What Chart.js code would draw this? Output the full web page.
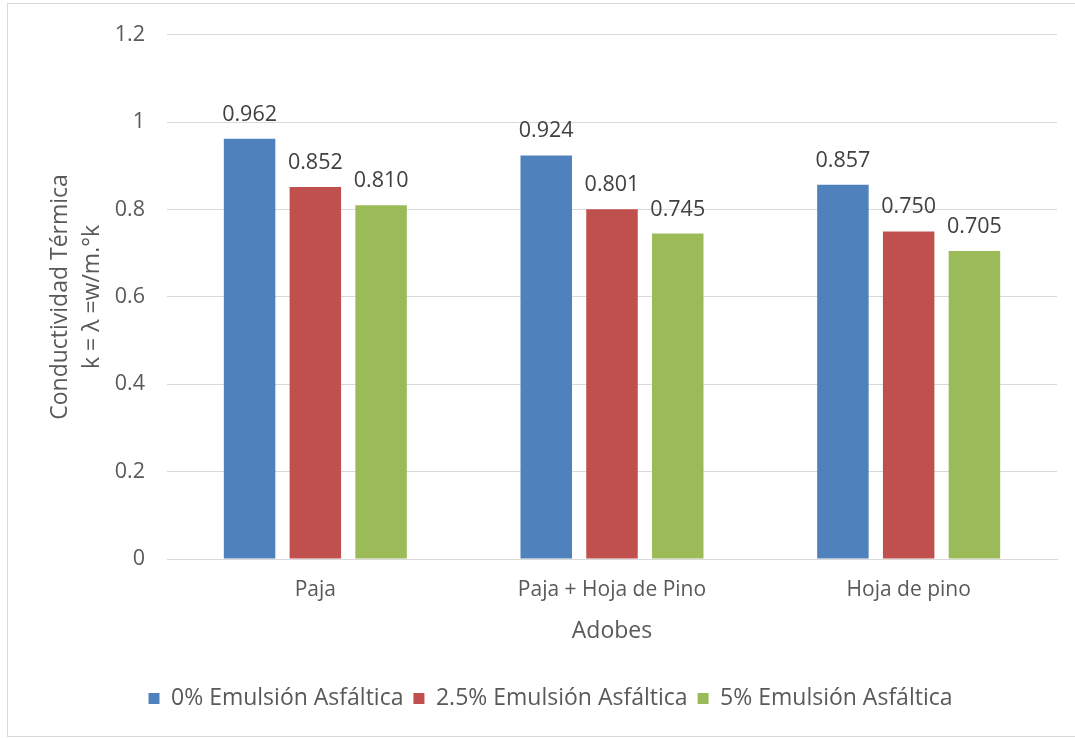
<!DOCTYPE html>
<html>
<head>
<meta charset="utf-8">
<script src="https://cdn.jsdelivr.net/npm/chart.js@4/dist/chart.umd.min.js"></script>
<style>
  html, body { margin: 0; padding: 0; background: #fff; }
  #wrap { position: relative; width: 1075px; height: 738px; }
  canvas { display: block; }
</style>
</head>
<body>
<div id="wrap"><canvas id="c" width="1075" height="738"></canvas></div>
<script>
const categories = ['Paja', 'Paja + Hoja de Pino', 'Hoja de pino'];
const seriesNames = ['0% Emulsión Asfáltica', '2.5% Emulsión Asfáltica', '5% Emulsión Asfáltica'];
const values0 = [0.962, 0.924, 0.857];
const values25 = [0.852, 0.801, 0.750];
const values5 = [0.810, 0.745, 0.705];
const yTicks = [0, 0.2, 0.4, 0.6, 0.8, 1, 1.2];
const colors = ['#4F81BD', '#C0504D', '#9BBB59'];

const FONT = '"Open Sans", "DejaVu Sans", sans-serif';

const frame = {
  id: 'frame',
  beforeDraw(chart) {
    const ctx = chart.ctx;
    ctx.save();
    ctx.fillStyle = '#fff';
    ctx.fillRect(0, 0, chart.width, chart.height);
    ctx.strokeStyle = '#d9d9d9';
    ctx.lineWidth = 1;
    ctx.strokeRect(7.5, 3.5, 1200, 733);
    ctx.restore();
  }
};

const valueLabels = {
  id: 'valueLabels',
  afterDatasetsDraw(chart) {
    const ctx = chart.ctx;
    ctx.save();
    ctx.font = '21.5px ' + FONT;
    ctx.fillStyle = '#404040';
    ctx.textAlign = 'center';
    ctx.textBaseline = 'alphabetic';
    chart.data.datasets.forEach((ds, i) => {
      const meta = chart.getDatasetMeta(i);
      meta.data.forEach((bar, j) => {
        ctx.fillText(ds.data[j].toFixed(3), bar.x, bar.y - 18);
      });
    });
    ctx.restore();
  }
};

new Chart(document.getElementById('c'), {
  type: 'bar',
  data: {
    labels: categories,
    datasets: [
      { label: seriesNames[0], data: values0, backgroundColor: colors[0] },
      { label: seriesNames[1], data: values25, backgroundColor: colors[1] },
      { label: seriesNames[2], data: values5, backgroundColor: colors[2] }
    ]
  },
  options: {
    responsive: false,
    animation: false,
    devicePixelRatio: 1,
    categoryPercentage: 0.665,
    barPercentage: 0.783,
    layout: { padding: { left: 44, right: 18, top: 33, bottom: 18 } },
    plugins: {
      legend: {
        position: 'bottom',
        labels: {
          font: { family: FONT, size: 23 },
          color: '#595959',
          boxWidth: 11,
          boxHeight: 11,
          padding: 10
        }
      },
      tooltip: { enabled: false }
    },
    scales: {
      x: {
        grid: { display: false, drawTicks: false },
        border: { display: true, color: '#d9d9d9', width: 1 },
        ticks: { font: { family: FONT, size: 21 }, color: '#595959', padding: 18 },
        title: {
          display: true, text: 'Adobes',
          font: { family: FONT, size: 23 }, color: '#595959',
          padding: { top: 0, bottom: 32 }
        },
        afterFit(scale) { scale.height = 118; }
      },
      y: {
        min: 0, max: 1.2,
        afterBuildTicks(scale) { scale.ticks = yTicks.map(v => ({ value: v })); },
        grid: { color: '#d9d9d9', lineWidth: 1, drawTicks: false },
        border: { display: false },
        ticks: {
          font: { family: FONT, size: 21.5 }, color: '#595959', padding: 22,
          callback: (v) => String(Math.round(v * 10) / 10)
        },
        title: {
          display: true,
          text: ['Conductividad Térmica', 'k = λ =w/m.°k'],
          font: { family: FONT, size: 23, lineHeight: 1.4 }, color: '#595959',
          padding: { top: 0, bottom: 0 }
        },
        afterFit(scale) { scale.width = 123; }
      }
    }
  },
  plugins: [frame, valueLabels]
});
</script>
</body>
</html>
